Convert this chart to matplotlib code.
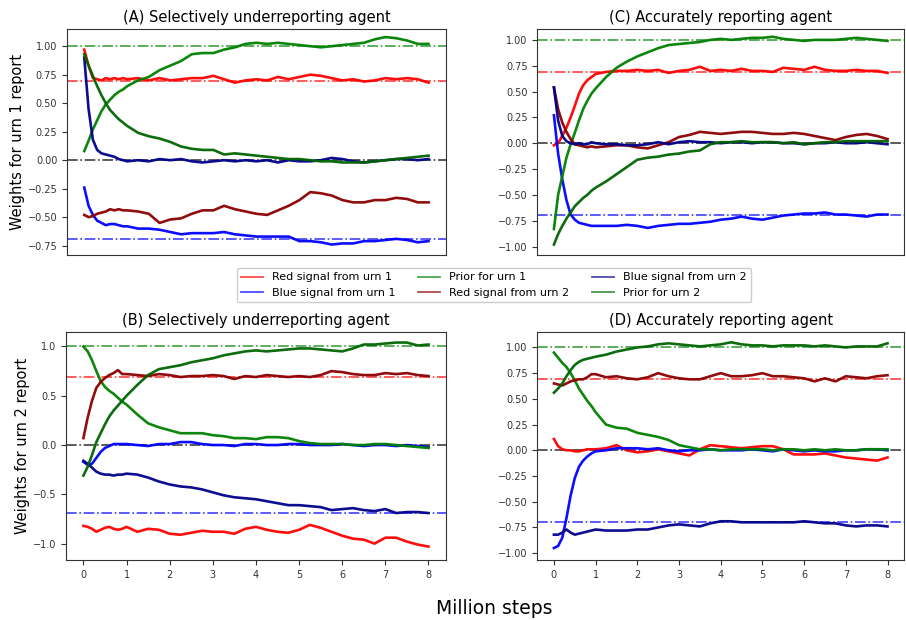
import numpy as np
import matplotlib
matplotlib.use('Agg')
import matplotlib.pyplot as plt
from matplotlib.ticker import MultipleLocator

matplotlib.rcParams['font.family'] = 'DejaVu Sans'
matplotlib.rcParams['axes.linewidth'] = 0.8

# --- data (million steps) ---
x_steps = [0.0, 0.1, 0.2, 0.3, 0.4, 0.5, 0.6, 0.7, 0.8, 0.9, 1.0,
           1.25, 1.5, 1.75, 2.0, 2.25, 2.5, 2.75, 3.0, 3.25, 3.5, 3.75, 4.0,
           4.25, 4.5, 4.75, 5.0, 5.25, 5.5, 5.75, 6.0, 6.25, 6.5, 6.75, 7.0,
           7.25, 7.5, 7.75, 8.0]

series_labels = ['Red signal from urn 1', 'Blue signal from urn 1', 'Prior for urn 1',
                 'Red signal from urn 2', 'Blue signal from urn 2', 'Prior for urn 2']
ref_levels = [1.0, 0.693, 0.0, -0.693]

# (A) selectively underreporting, urn 1 report
a_red1 = [0.97, 0.83, 0.72, 0.71, 0.70, 0.72, 0.71, 0.72, 0.71, 0.72, 0.71,
          0.72, 0.70, 0.72, 0.70, 0.71, 0.72, 0.72, 0.74, 0.71, 0.68, 0.70, 0.71,
          0.70, 0.73, 0.71, 0.73, 0.75, 0.74, 0.72, 0.70, 0.71, 0.69, 0.70, 0.72,
          0.71, 0.72, 0.71, 0.68]
a_blue1 = [-0.24, -0.40, -0.48, -0.53, -0.55, -0.57, -0.56, -0.56, -0.57, -0.58, -0.58,
           -0.60, -0.60, -0.61, -0.63, -0.65, -0.64, -0.64, -0.64, -0.63, -0.65, -0.66, -0.67,
           -0.67, -0.67, -0.67, -0.71, -0.71, -0.72, -0.74, -0.73, -0.73, -0.71, -0.71, -0.70,
           -0.69, -0.70, -0.72, -0.71]
a_prior1 = [0.08, 0.17, 0.27, 0.35, 0.43, 0.49, 0.53, 0.57, 0.60, 0.62, 0.65,
            0.70, 0.73, 0.79, 0.83, 0.87, 0.93, 0.94, 0.94, 0.97, 0.99, 1.02, 1.03,
            1.02, 1.03, 1.02, 1.01, 1.00, 0.99, 1.00, 1.01, 1.02, 1.03, 1.06, 1.08,
            1.07, 1.05, 1.02, 1.02]
a_red2 = [-0.48, -0.50, -0.49, -0.47, -0.46, -0.45, -0.43, -0.44, -0.43, -0.44, -0.44,
          -0.45, -0.47, -0.55, -0.52, -0.51, -0.47, -0.44, -0.44, -0.40, -0.43, -0.45, -0.47,
          -0.48, -0.44, -0.40, -0.35, -0.28, -0.29, -0.31, -0.35, -0.37, -0.37, -0.35, -0.35,
          -0.33, -0.34, -0.37, -0.37]
a_blue2 = [0.90, 0.45, 0.18, 0.09, 0.06, 0.05, 0.04, 0.03, 0.01, 0.00, -0.01,
           0.00, -0.01, 0.01, 0.00, 0.01, -0.01, -0.02, -0.01, 0.00, -0.01, 0.00, -0.01,
           0.00, -0.02, 0.00, -0.01, -0.01, 0.00, 0.02, 0.01, -0.01, -0.02, -0.01, 0.00,
           0.01, 0.01, 0.00, 0.01]
a_prior2 = [0.93, 0.83, 0.74, 0.65, 0.57, 0.50, 0.44, 0.40, 0.36, 0.33, 0.30,
            0.24, 0.21, 0.19, 0.16, 0.12, 0.10, 0.09, 0.09, 0.05, 0.06, 0.05, 0.04,
            0.03, 0.02, 0.01, 0.01, 0.00, -0.01, -0.01, -0.02, -0.02, -0.02, -0.01, 0.00,
            0.01, 0.02, 0.03, 0.04]

# (B) selectively underreporting, urn 2 report
b_red1 = [-0.82, -0.83, -0.85, -0.88, -0.86, -0.84, -0.83, -0.85, -0.86, -0.85, -0.83,
          -0.88, -0.85, -0.86, -0.90, -0.91, -0.89, -0.87, -0.88, -0.88, -0.90, -0.85, -0.83,
          -0.86, -0.88, -0.89, -0.86, -0.81, -0.84, -0.88, -0.92, -0.95, -0.96, -1.00, -0.94,
          -0.94, -0.98, -1.01, -1.03]
b_blue1 = [-0.17, -0.20, -0.19, -0.13, -0.07, -0.03, -0.01, 0.01, 0.01, 0.01, 0.01,
           0.00, -0.01, 0.01, 0.01, 0.03, 0.03, 0.01, 0.00, 0.00, -0.01, 0.01, 0.01,
           0.00, 0.00, 0.01, 0.01, 0.00, 0.00, 0.00, 0.01, 0.00, -0.01, 0.00, 0.00,
           -0.01, 0.00, -0.01, -0.02]
b_prior1 = [1.00, 0.95, 0.86, 0.75, 0.65, 0.59, 0.55, 0.52, 0.48, 0.44, 0.41,
            0.31, 0.22, 0.18, 0.15, 0.12, 0.12, 0.12, 0.10, 0.09, 0.07, 0.07, 0.06,
            0.08, 0.08, 0.07, 0.04, 0.02, 0.01, 0.01, 0.01, 0.00, 0.00, 0.01, 0.01,
            0.00, -0.01, -0.02, -0.03]
b_red2 = [0.07, 0.28, 0.45, 0.58, 0.64, 0.68, 0.71, 0.73, 0.76, 0.72, 0.72,
          0.71, 0.70, 0.72, 0.71, 0.69, 0.70, 0.70, 0.71, 0.70, 0.67, 0.70, 0.69,
          0.71, 0.70, 0.69, 0.70, 0.69, 0.71, 0.75, 0.74, 0.72, 0.71, 0.71, 0.73,
          0.72, 0.73, 0.71, 0.70]
b_blue2 = [-0.16, -0.19, -0.23, -0.27, -0.29, -0.30, -0.30, -0.31, -0.30, -0.30, -0.29,
           -0.30, -0.33, -0.37, -0.40, -0.42, -0.43, -0.45, -0.48, -0.51, -0.53, -0.54, -0.55,
           -0.57, -0.59, -0.61, -0.61, -0.62, -0.63, -0.66, -0.65, -0.64, -0.66, -0.67, -0.65,
           -0.69, -0.68, -0.68, -0.69]
b_prior2 = [-0.31, -0.22, -0.10, 0.03, 0.12, 0.21, 0.29, 0.35, 0.40, 0.45, 0.50,
            0.61, 0.71, 0.77, 0.79, 0.81, 0.84, 0.86, 0.88, 0.91, 0.93, 0.95, 0.96,
            0.95, 0.96, 0.97, 0.98, 0.98, 0.97, 0.96, 0.95, 0.98, 1.02, 1.02, 1.03,
            1.04, 1.04, 1.01, 1.02]

# (C) accurately reporting, urn 1 report
c_red1 = [-0.02, 0.00, 0.07, 0.15, 0.25, 0.36, 0.48, 0.56, 0.61, 0.64, 0.67,
          0.69, 0.70, 0.70, 0.71, 0.70, 0.71, 0.68, 0.70, 0.71, 0.74, 0.70, 0.71,
          0.70, 0.72, 0.70, 0.70, 0.69, 0.73, 0.72, 0.71, 0.74, 0.71, 0.70, 0.70,
          0.71, 0.70, 0.70, 0.68]
c_blue1 = [0.27, -0.10, -0.35, -0.55, -0.69, -0.74, -0.77, -0.78, -0.79, -0.80, -0.80,
           -0.80, -0.80, -0.79, -0.80, -0.82, -0.80, -0.79, -0.78, -0.78, -0.77, -0.76, -0.74,
           -0.73, -0.71, -0.73, -0.74, -0.72, -0.70, -0.69, -0.68, -0.68, -0.67, -0.69, -0.69,
           -0.70, -0.71, -0.69, -0.69]
c_prior1 = [-0.83, -0.50, -0.32, -0.14, -0.01, 0.10, 0.22, 0.33, 0.41, 0.48, 0.53,
            0.64, 0.73, 0.79, 0.84, 0.88, 0.92, 0.95, 0.96, 0.97, 0.98, 1.00, 1.01,
            1.00, 1.01, 1.02, 1.02, 1.03, 1.01, 1.00, 0.99, 1.00, 1.00, 1.00, 1.01,
            1.02, 1.01, 1.00, 0.99]
c_red2 = [0.54, 0.33, 0.20, 0.11, 0.04, -0.01, -0.02, -0.03, -0.04, -0.03, -0.04,
          -0.03, -0.02, -0.02, -0.04, -0.05, -0.02, 0.01, 0.06, 0.08, 0.11, 0.10, 0.09,
          0.10, 0.11, 0.11, 0.10, 0.09, 0.09, 0.10, 0.09, 0.07, 0.05, 0.03, 0.06,
          0.08, 0.09, 0.07, 0.04]
c_blue2 = [0.54, 0.22, 0.07, 0.02, 0.00, -0.01, 0.00, -0.01, -0.01, 0.01, 0.00,
           -0.01, -0.01, -0.02, -0.02, -0.01, 0.01, -0.01, 0.01, 0.02, 0.01, 0.01, 0.00,
           0.01, 0.01, 0.00, 0.01, 0.01, 0.00, 0.00, -0.01, 0.00, 0.00, 0.01, 0.00,
           0.00, 0.01, 0.00, -0.01]
c_prior2 = [-0.98, -0.88, -0.80, -0.73, -0.67, -0.61, -0.57, -0.53, -0.50, -0.46, -0.43,
            -0.37, -0.30, -0.23, -0.16, -0.14, -0.13, -0.11, -0.10, -0.08, -0.07, -0.01, 0.01,
            0.01, 0.02, 0.01, 0.01, 0.01, 0.00, 0.01, -0.01, 0.00, 0.01, 0.01, 0.02,
            0.02, 0.02, 0.02, 0.02]

# (D) accurately reporting, urn 2 report
d_red1 = [0.11, 0.04, 0.01, 0.00, 0.00, -0.01, -0.01, 0.00, 0.01, 0.01, 0.01,
          0.02, 0.05, 0.00, -0.02, -0.01, 0.01, -0.01, -0.03, -0.05, 0.01, 0.05, 0.04,
          0.03, 0.02, 0.03, 0.04, 0.04, 0.01, -0.04, -0.04, -0.04, -0.03, -0.05, -0.07,
          -0.08, -0.09, -0.10, -0.07]
d_blue1 = [-0.95, -0.93, -0.85, -0.66, -0.44, -0.27, -0.16, -0.10, -0.06, -0.03, -0.01,
           0.00, 0.02, 0.02, 0.02, 0.01, 0.02, 0.00, -0.01, 0.00, 0.00, 0.01, 0.00,
           0.00, 0.00, 0.01, 0.00, -0.01, 0.01, 0.00, -0.01, 0.00, -0.01, -0.01, 0.00,
           0.00, 0.01, 0.01, 0.00]
d_prior1 = [0.95, 0.90, 0.85, 0.81, 0.75, 0.68, 0.60, 0.54, 0.48, 0.43, 0.37,
            0.25, 0.22, 0.21, 0.17, 0.15, 0.13, 0.10, 0.05, 0.03, 0.01, 0.01, 0.00,
            0.01, 0.01, 0.01, 0.01, 0.00, 0.01, 0.01, 0.00, 0.01, 0.00, 0.01, 0.00,
            0.00, 0.01, 0.01, 0.01]
d_red2 = [0.65, 0.64, 0.63, 0.65, 0.67, 0.68, 0.69, 0.69, 0.71, 0.74, 0.74,
          0.71, 0.72, 0.70, 0.69, 0.71, 0.75, 0.72, 0.70, 0.69, 0.69, 0.72, 0.75,
          0.72, 0.72, 0.73, 0.75, 0.72, 0.72, 0.71, 0.70, 0.67, 0.70, 0.67, 0.72,
          0.71, 0.70, 0.72, 0.73]
d_blue2 = [-0.82, -0.82, -0.80, -0.77, -0.80, -0.82, -0.81, -0.80, -0.79, -0.78, -0.77,
           -0.78, -0.78, -0.78, -0.77, -0.77, -0.75, -0.73, -0.72, -0.73, -0.74, -0.71, -0.69,
           -0.69, -0.70, -0.70, -0.70, -0.70, -0.70, -0.70, -0.69, -0.70, -0.71, -0.71, -0.73,
           -0.74, -0.73, -0.73, -0.74]
d_prior2 = [0.56, 0.60, 0.65, 0.72, 0.78, 0.83, 0.86, 0.88, 0.89, 0.90, 0.91,
            0.93, 0.96, 0.98, 1.00, 1.01, 1.03, 1.04, 1.03, 1.02, 1.01, 1.02, 1.03,
            1.05, 1.03, 1.02, 1.02, 1.01, 1.02, 1.02, 1.02, 1.01, 1.02, 1.01, 1.00,
            1.01, 1.01, 1.01, 1.04]

line_colors = ['red', 'blue', 'green', 'darkred', 'darkblue', 'darkgreen']
ref_colors = ['green', 'red', 'black', 'blue']


def draw_panel(ax, title, series, ylim, ystep):
    for lvl, c in zip(ref_levels, ref_colors):
        ax.axhline(lvl, color=c, linestyle='-.', linewidth=1.2, alpha=0.75, zorder=1)
    for vals, c, lab in zip(series, line_colors, series_labels):
        ax.plot(x_steps, vals, color=c, linewidth=1.9, alpha=0.95, label=lab, zorder=2)
    ax.set_title(title, fontsize=10.5, pad=5)
    ax.set_xlim(-0.4, 8.4)
    ax.set_ylim(*ylim)
    ax.yaxis.set_major_locator(MultipleLocator(ystep))
    ax.xaxis.set_major_locator(MultipleLocator(1))
    ax.tick_params(labelsize=7, colors='#333333')
    for s in ax.spines.values():
        s.set_edgecolor('#333333')


fig = plt.figure(figsize=(9.06, 6.2), dpi=100)

ax_a = fig.add_axes([0.074, 0.589, 0.418, 0.365])
ax_c = fig.add_axes([0.593, 0.589, 0.405, 0.365])
ax_b = fig.add_axes([0.073, 0.097, 0.419, 0.368])
ax_d = fig.add_axes([0.593, 0.097, 0.405, 0.368])

draw_panel(ax_a, '(A) Selectively underreporting agent',
           [a_red1, a_blue1, a_prior1, a_red2, a_blue2, a_prior2], (-0.83, 1.155), 0.25)
draw_panel(ax_c, '(C) Accurately reporting agent',
           [c_red1, c_blue1, c_prior1, c_red2, c_blue2, c_prior2], (-1.08, 1.11), 0.25)
draw_panel(ax_b, '(B) Selectively underreporting agent',
           [b_red1, b_blue1, b_prior1, b_red2, b_blue2, b_prior2], (-1.165, 1.15), 0.5)
draw_panel(ax_d, '(D) Accurately reporting agent',
           [d_red1, d_blue1, d_prior1, d_red2, d_blue2, d_prior2], (-1.065, 1.153), 0.25)

# top row: no x ticks
for ax in (ax_a, ax_c):
    ax.tick_params(axis='x', bottom=False, labelbottom=False)

ax_a.set_ylabel('Weights for urn 1 report', fontsize=10.5, labelpad=2)
ax_b.set_ylabel('Weights for urn 2 report', fontsize=10.5, labelpad=2)
fig.text(0.545, 0.019, 'Million steps', ha='center', va='center', fontsize=13.5)

handles, labels = ax_a.get_legend_handles_labels()
leg = fig.legend(handles, labels, loc='center', bbox_to_anchor=(0.545, 0.54),
                 ncol=3, fontsize=8, framealpha=1, edgecolor='#cccccc')
for h in leg.legend_handles:
    h.set_alpha(0.7)
    h.set_linewidth(1.3)

plt.savefig('out.png', dpi=100)
